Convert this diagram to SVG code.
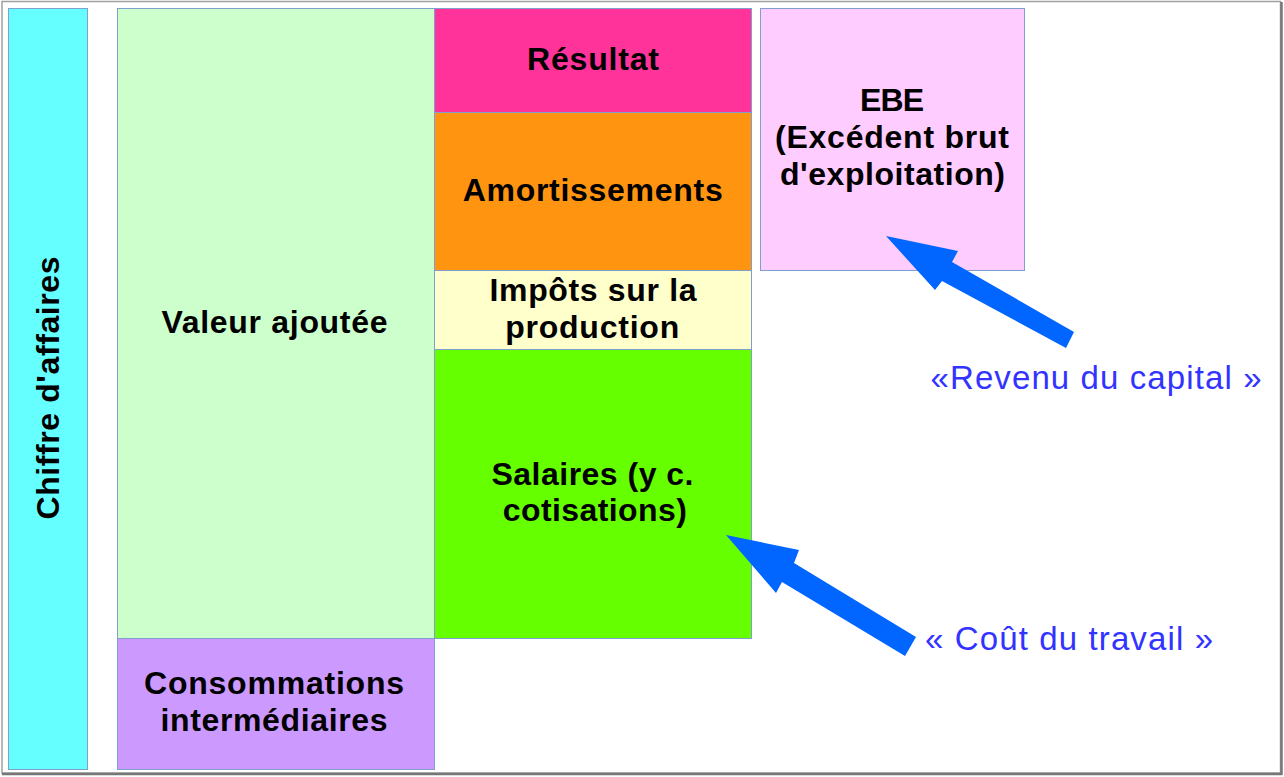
<svg xmlns="http://www.w3.org/2000/svg" width="1284" height="777" viewBox="0 0 1284 777">
<style>
.box{stroke:#7f9fcf;stroke-width:1}
.lbl{font-family:"Liberation Sans",Arial,sans-serif;font-weight:bold;font-size:32px;fill:#000;text-anchor:middle}
.blue{font-family:"Liberation Sans",Arial,sans-serif;font-size:33px;fill:#3333ff;text-anchor:middle}
.arrow{fill:#0066ff}
</style>
<rect x="0" y="0" width="1284" height="777" fill="#fff"/>
<rect x="2" y="1.5" width="1278.5" height="771.5" fill="#fff" stroke="#a0a0a0" stroke-width="1.5"/>
<line x1="1281.5" y1="2" x2="1281.5" y2="775" stroke="#777" stroke-width="2.5"/>
<line x1="2" y1="774" x2="1282" y2="774" stroke="#777" stroke-width="2.5"/>

<g id="chiffre-affaires">
<rect class="box" x="8.5" y="8.5" width="79" height="761" fill="#66ffff"/>
<text class="lbl" transform="translate(59,388) rotate(-90)" textLength="263" lengthAdjust="spacing">Chiffre d'affaires</text>
</g>
<g id="valeur-ajoutee">
<rect class="box" x="117.5" y="8.5" width="317" height="630" fill="#ccffcc"/>
<text class="lbl" x="274.5" y="333" textLength="226" lengthAdjust="spacing">Valeur ajoutée</text>
</g>
<g id="consommations">
<rect class="box" x="117.5" y="638.5" width="317" height="131" fill="#cc99ff"/>
<text class="lbl" x="274" y="694" textLength="260" lengthAdjust="spacing">Consommations</text>
<text class="lbl" x="274" y="731" textLength="227" lengthAdjust="spacing">intermédiaires</text>
</g>
<g id="resultat">
<rect class="box" x="434.5" y="8.5" width="317" height="104" fill="#ff3399"/>
<text class="lbl" x="593" y="70" textLength="132" lengthAdjust="spacing">Résultat</text>
</g>
<g id="amortissements">
<rect class="box" x="434.5" y="112.5" width="317" height="158" fill="#ff9411"/>
<text class="lbl" x="592.7" y="201" textLength="260" lengthAdjust="spacing">Amortissements</text>
</g>
<g id="impots">
<rect class="box" x="434.5" y="270.5" width="317" height="79" fill="#ffffcc"/>
<text class="lbl" x="593" y="301" textLength="207" lengthAdjust="spacing">Impôts sur la</text>
<text class="lbl" x="592.2" y="338" textLength="174" lengthAdjust="spacing">production</text>
</g>
<g id="salaires">
<rect class="box" x="434.5" y="349.5" width="317" height="289" fill="#66ff00"/>
<text class="lbl" x="592.5" y="485" textLength="202" lengthAdjust="spacing">Salaires (y c.</text>
<text class="lbl" x="594.8" y="521" textLength="184" lengthAdjust="spacing">cotisations)</text>
</g>
<g id="ebe">
<rect class="box" x="760.5" y="8.5" width="264" height="262" fill="#ffccff"/>
<text class="lbl" x="892" y="111" textLength="64" lengthAdjust="spacing">EBE</text>
<text class="lbl" x="892" y="148" textLength="234" lengthAdjust="spacing">(Excédent brut</text>
<text class="lbl" x="892.5" y="185" textLength="225" lengthAdjust="spacing">d'exploitation)</text>
</g>

<g id="connectors">
<polygon class="arrow" points="886,236 958,251 952,262 1074,332 1066,348 942,281 935,290"/>
<polygon class="arrow" points="726,535 799,550 794,563 916,637 905,656 782,582 776,593"/>
</g>

<g id="label-capital">
<text class="blue" x="1096" y="389" textLength="331" lengthAdjust="spacing">«Revenu du capital »</text>
</g>
<g id="label-travail">
<text class="blue" x="1069" y="650" textLength="288" lengthAdjust="spacing">« Coût du travail »</text>
</g>
</svg>
